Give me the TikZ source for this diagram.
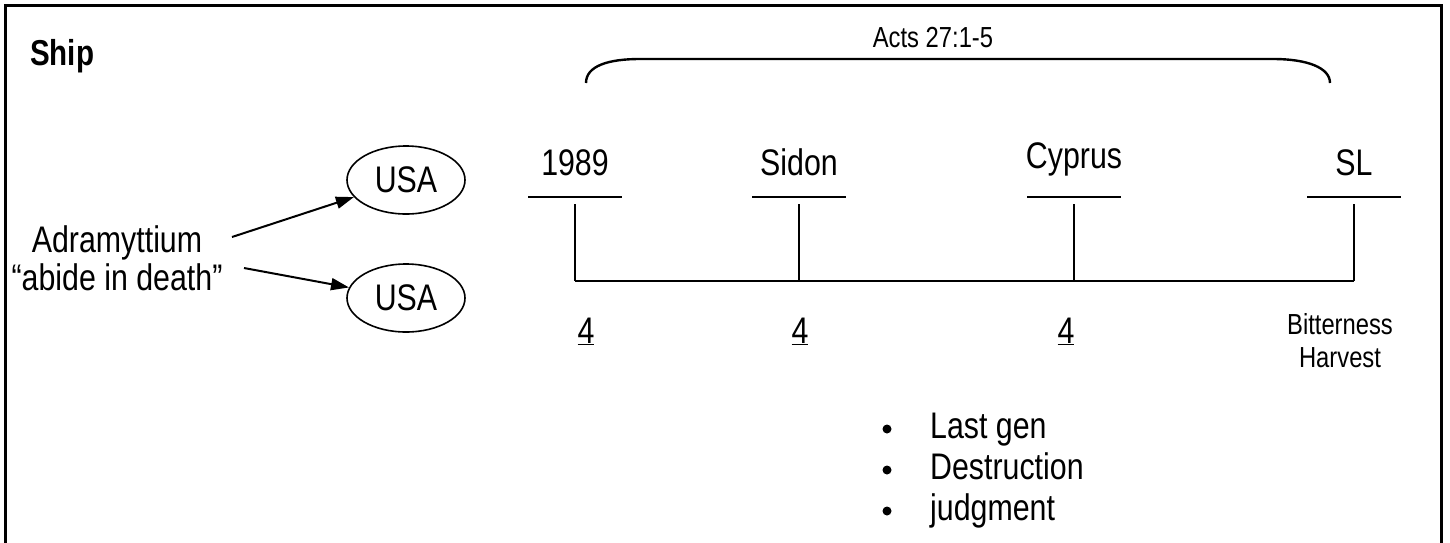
\documentclass[tikz,border=0pt]{standalone}
\usepackage{fontspec}
\setmainfont[FakeStretch=0.82]{Liberation Sans}
\usetikzlibrary{arrows.meta,shapes.geometric}
\begin{document}
\begin{tikzpicture}[x=1pt,y=-1pt,
  big/.style={inner sep=0pt, anchor=base, font=\fontsize{37}{42}\selectfont},
  small/.style={inner sep=0pt, anchor=base, font=\fontsize{29}{33}\selectfont},
  oval/.style={ellipse, draw, line width=1.6pt, minimum width=118pt, minimum height=68pt, inner sep=0pt, font=\fontsize{37}{42}\selectfont},
  arr/.style={line width=2pt, -{Triangle[length=18pt,width=12pt]}},
  ln/.style={line width=2pt},
  dotb/.style={circle, fill, inner sep=0pt, minimum size=9pt}
]
\useasboundingbox (0,0) rectangle (1450,542);
% frame
\draw[line width=3pt] (5,560) -- (5,5) -- (1441,5) -- (1441,560);
% title
\node[inner sep=0pt, anchor=base west, font=\fontsize{36}{40}\selectfont\bfseries] (ship) at (30,65) {Ship};
% bracket
\node[small] (acts) at (933,47) {Acts 27:1-5};
\coordinate (bl) at (586,83);
\coordinate (br) at (1330,83);
\draw[line width=2.4pt] (bl) .. controls (586,66) and (608,59) .. (640,59) -- (1273,59) .. controls (1308,59) and (1330,68) .. (br);
% left side
\node[big] (adr) at (117,252) {Adramyttium};
\node[big] (abide) at (117,290) {\char"201C abide in death\char"201D};
\node[oval] (usa1) at (406,180) {USA};
\node[oval] (usa2) at (406,298) {USA};
\coordinate (a1) at (232,237);
\coordinate (a2) at (244,268);
\draw[arr] (a1) -- (usa1);
\draw[arr] (a2) -- (usa2);
% timeline
\coordinate (t1) at (575,281);
\coordinate (t2) at (799,281);
\coordinate (t3) at (1074,281);
\coordinate (t4) at (1354,281);
\draw[ln] (t1) -- (t4);
\foreach \n/\x in {1/575,2/799,3/1074,4/1354}{
  \coordinate (s\n) at (\x,204);
  \coordinate (hl\n) at (\x-47,197);
  \coordinate (hr\n) at (\x+47,197);
  \draw[ln] (s\n) -- (t\n);
  \draw[ln] (hl\n) -- (hr\n);
}
\node[big] (l1) at (575,175) {1989};
\node[big] (l2) at (799,175) {Sidon};
\node[big] (l3) at (1074,168) {Cyprus};
\node[big] (l4) at (1354,175) {SL};
\node[big] (n1) at (586,343) {\underline{4}};
\node[big] (n2) at (800,343) {\underline{4}};
\node[big] (n3) at (1066,343) {\underline{4}};
\node[small] (bit) at (1340,334) {Bitterness};
\node[small] (har) at (1340,367) {Harvest};
% bullets
\node[dotb] (d1) at (887,429) {};
\node[dotb] (d2) at (887,470) {};
\node[dotb] (d3) at (887,511) {};
\node[big, anchor=base west] (b1) at (930,438) {Last gen};
\node[big, anchor=base west] (b2) at (930,479) {Destruction};
\node[big, anchor=base west] (b3) at (930,520) {judgment};
\end{tikzpicture}
\end{document}
